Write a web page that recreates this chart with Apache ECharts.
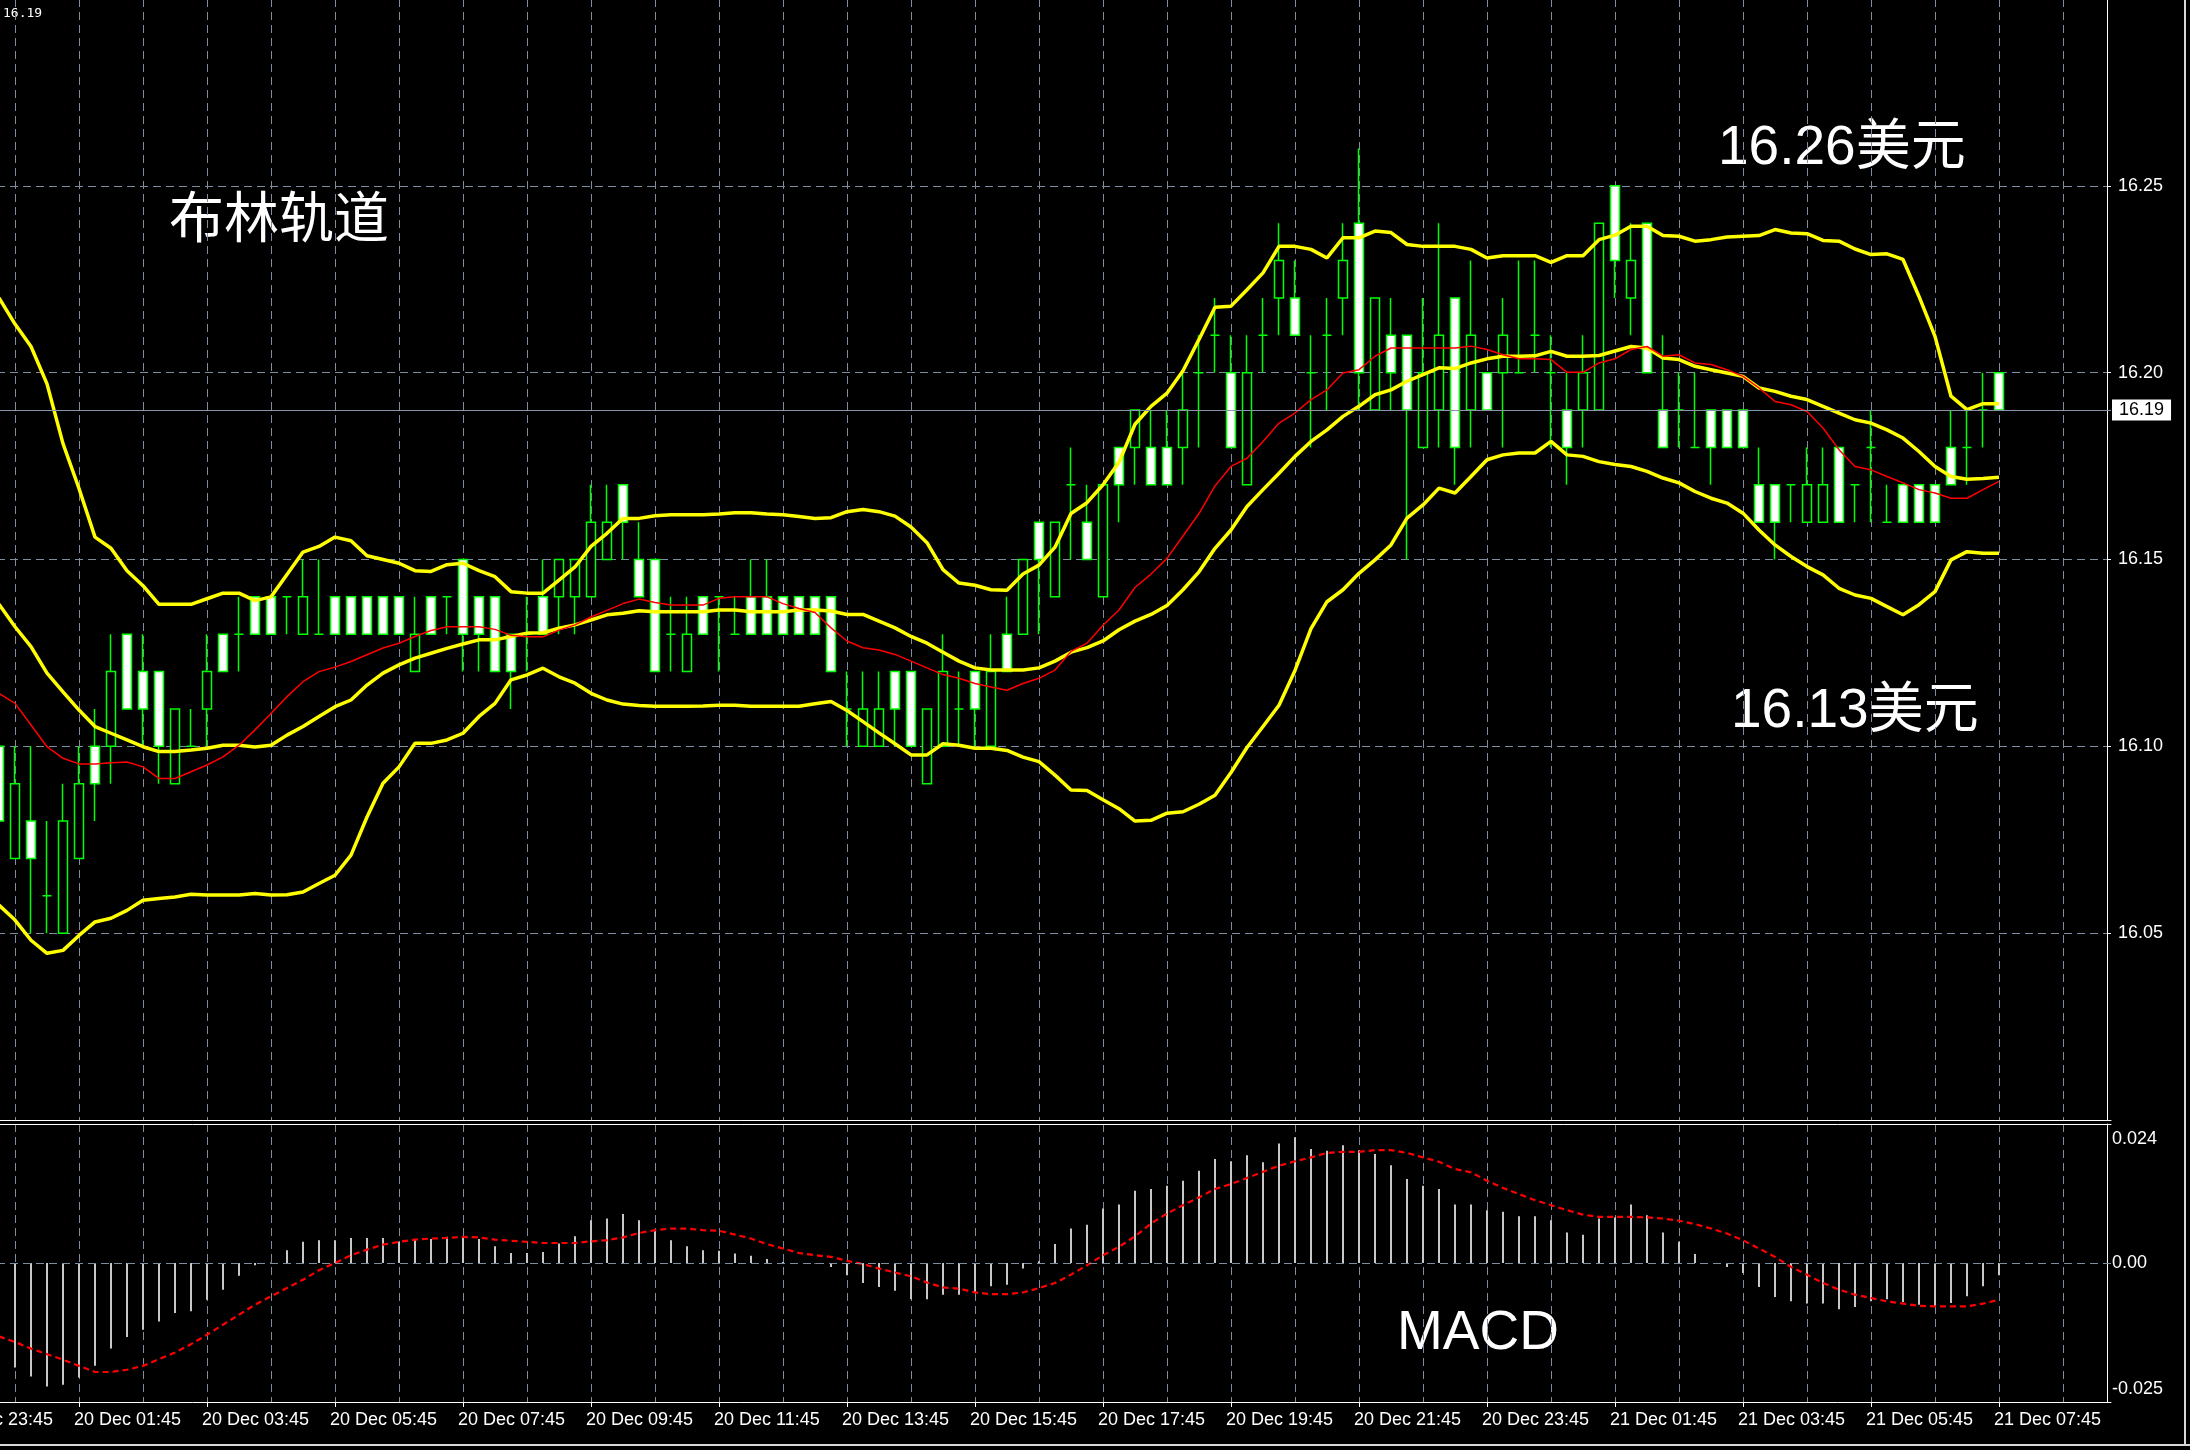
<!DOCTYPE html>
<html><head><meta charset="utf-8">
<script src="https://cdn.jsdelivr.net/npm/echarts@6/dist/echarts.min.js"></script>
<style>
html,body{margin:0;padding:0;background:#000;overflow:hidden;}
body{position:relative;width:2190px;height:1450px;}
#c{position:absolute;left:-81px;top:-2px;width:2271px;height:1452px;}
</style>
</head><body><div id="c"></div>
<script>
// ---- data: bars 20 Dec 00:30 (index 0) ... 21 Dec 07:45 (index 125), M15 ----
const open = [
16.10,16.07,16.08,16.06,16.05,16.07,16.10,16.10,16.13,16.12,
16.12,16.09,16.10,16.11,16.13,16.13,16.14,16.14,16.14,16.13,
16.13,16.14,16.14,16.14,16.14,16.14,16.12,16.14,16.14,16.15,
16.14,16.14,16.13,16.13,16.14,16.14,16.14,16.14,16.15,16.17,
16.15,16.15,16.13,16.12,16.14,16.14,16.13,16.14,16.14,16.14,
16.14,16.14,16.14,16.11,16.10,16.10,16.12,16.12,16.09,16.10,
16.11,16.12,16.10,16.13,16.13,16.16,16.14,16.17,16.16,16.14,
16.18,16.18,16.18,16.18,16.18,16.20,16.21,16.20,16.17,16.21,
16.22,16.22,16.20,16.21,16.22,16.24,16.19,16.21,16.21,16.18,
16.19,16.22,16.19,16.20,16.20,16.20,16.21,16.20,16.19,16.19,
16.19,16.25,16.22,16.24,16.19,16.19,16.18,16.19,16.19,16.19,
16.17,16.17,16.17,16.16,16.16,16.18,16.17,16.18,16.16,16.17,
16.17,16.17,16.18,16.18,16.19,16.20];
const high = [
16.11,16.10,16.10,16.08,16.09,16.10,16.11,16.13,16.13,16.13,
16.12,16.11,16.11,16.13,16.13,16.14,16.14,16.14,16.14,16.15,
16.15,16.14,16.14,16.14,16.14,16.14,16.14,16.14,16.14,16.15,
16.14,16.14,16.13,16.14,16.15,16.15,16.15,16.17,16.17,16.17,
16.16,16.15,16.14,16.14,16.14,16.14,16.14,16.15,16.15,16.14,
16.14,16.14,16.14,16.12,16.12,16.12,16.12,16.12,16.11,16.13,
16.12,16.12,16.13,16.14,16.15,16.16,16.16,16.18,16.17,16.17,
16.18,16.19,16.19,16.19,16.20,16.21,16.22,16.21,16.21,16.22,
16.24,16.23,16.21,16.22,16.24,16.26,16.22,16.22,16.21,16.22,
16.24,16.22,16.23,16.20,16.22,16.23,16.23,16.21,16.20,16.21,
16.24,16.25,16.24,16.24,16.21,16.20,16.20,16.19,16.19,16.19,
16.18,16.17,16.17,16.18,16.18,16.18,16.17,16.19,16.17,16.17,
16.17,16.17,16.19,16.19,16.20,16.20];
const low = [
16.07,16.07,16.05,16.05,16.05,16.07,16.08,16.09,16.11,16.10,
16.09,16.09,16.10,16.10,16.12,16.12,16.13,16.13,16.13,16.13,
16.13,16.13,16.13,16.13,16.13,16.13,16.12,16.13,16.13,16.12,
16.12,16.12,16.11,16.12,16.13,16.13,16.13,16.14,16.15,16.15,
16.14,16.12,16.12,16.12,16.13,16.12,16.13,16.13,16.13,16.13,
16.13,16.13,16.12,16.10,16.10,16.10,16.10,16.10,16.09,16.10,
16.10,16.10,16.10,16.12,16.13,16.13,16.14,16.15,16.15,16.14,
16.16,16.17,16.17,16.17,16.17,16.18,16.20,16.18,16.17,16.20,
16.21,16.21,16.18,16.19,16.21,16.19,16.19,16.19,16.15,16.18,
16.18,16.17,16.18,16.19,16.18,16.20,16.20,16.18,16.17,16.18,
16.19,16.22,16.21,16.20,16.18,16.18,16.18,16.17,16.18,16.18,
16.16,16.15,16.16,16.16,16.16,16.16,16.16,16.16,16.16,16.16,
16.16,16.16,16.17,16.17,16.18,16.19];
const close = [
16.08,16.09,16.07,16.06,16.08,16.09,16.09,16.12,16.11,16.11,
16.10,16.11,16.10,16.12,16.12,16.13,16.13,16.13,16.14,16.14,
16.13,16.13,16.13,16.13,16.13,16.13,16.13,16.13,16.14,16.13,
16.13,16.12,16.12,16.13,16.13,16.15,16.15,16.16,16.16,16.16,
16.14,16.12,16.13,16.13,16.13,16.14,16.13,16.13,16.13,16.13,
16.13,16.13,16.12,16.11,16.11,16.11,16.11,16.10,16.11,16.12,
16.11,16.11,16.12,16.12,16.15,16.15,16.16,16.17,16.15,16.17,
16.17,16.19,16.17,16.17,16.19,16.20,16.21,16.18,16.20,16.21,
16.23,16.21,16.20,16.21,16.23,16.20,16.22,16.20,16.19,16.20,
16.21,16.18,16.21,16.19,16.21,16.20,16.21,16.20,16.18,16.20,
16.24,16.23,16.23,16.20,16.18,16.19,16.18,16.18,16.18,16.18,
16.16,16.16,16.17,16.17,16.17,16.16,16.17,16.18,16.16,16.16,
16.16,16.16,16.17,16.18,16.19,16.19];
const bbUpper = [
16.220,16.213,16.207,16.197,16.181,16.169,16.156,16.153,16.147,16.143,
16.138,16.138,16.138,16.1395,16.141,16.141,16.139,16.140,16.146,16.152,
16.1535,16.156,16.155,16.151,16.150,16.149,16.147,16.1468,16.1486,16.149,
16.147,16.1454,16.1414,16.141,16.141,16.1445,16.148,16.1535,16.157,16.161,
16.161,16.1617,16.162,16.162,16.162,16.1622,16.1625,16.1625,16.1622,16.162,
16.1615,16.161,16.1612,16.1628,16.1634,16.1628,16.1616,16.1587,16.1545,16.1473,
16.1437,16.1431,16.1419,16.1418,16.1461,16.1485,16.1533,16.1623,16.1652,16.170,
16.176,16.1862,16.191,16.1945,16.2005,16.2089,16.2175,16.2178,16.2222,16.2267,
16.2338,16.2338,16.233,16.2307,16.2361,16.2361,16.2379,16.2375,16.2343,16.2338,
16.2338,16.2338,16.233,16.2307,16.2313,16.2313,16.2313,16.2295,16.2313,16.2313,
16.2356,16.2368,16.2392,16.2392,16.2367,16.2365,16.2352,16.2356,16.2363,16.2365,
16.2367,16.2383,16.2374,16.2372,16.2354,16.2352,16.2331,16.2316,16.2318,16.2303,
16.2204,16.2097,16.1937,16.1901,16.1917,16.1917];
const bbMiddle = [
16.138,16.132,16.1267,16.1196,16.1146,16.1097,16.1053,16.1035,16.1017,16.0999,
16.0986,16.0986,16.099,16.0995,16.1003,16.1003,16.0998,16.1003,16.103,16.1053,
16.108,16.1106,16.1124,16.1164,16.1196,16.1218,16.1236,16.1249,16.1262,16.1274,
16.1285,16.1285,16.1294,16.1303,16.1304,16.1316,16.1325,16.1338,16.1352,16.1356,
16.1363,16.136,16.136,16.136,16.136,16.1365,16.1365,16.136,16.136,16.136,
16.1365,16.1365,16.1362,16.1353,16.1353,16.1335,16.1317,16.1294,16.1276,16.1252,
16.1228,16.121,16.1204,16.1204,16.1204,16.121,16.1228,16.1252,16.1264,16.1282,
16.1312,16.1335,16.1353,16.1377,16.1419,16.1467,16.153,16.1579,16.1642,16.1687,
16.1731,16.1776,16.1816,16.1847,16.1883,16.191,16.1941,16.1954,16.1977,16.1995,
16.2013,16.2011,16.2026,16.2037,16.2044,16.2044,16.2045,16.2057,16.2044,16.2044,
16.2046,16.2058,16.207,16.2066,16.2039,16.2035,16.2017,16.2008,16.1999,16.199,
16.1959,16.195,16.1937,16.1928,16.191,16.1892,16.1874,16.1865,16.1847,16.1825,
16.1789,16.1749,16.1722,16.1715,16.1717,16.172];
const bbLower = [
16.0575,16.0535,16.0481,16.0446,16.0454,16.0494,16.053,16.054,16.0561,16.0588,
16.0593,16.0597,16.0604,16.0602,16.0602,16.0602,16.0606,16.0602,16.0603,16.061,
16.0633,16.0655,16.0709,16.0811,16.0901,16.0945,16.1008,16.1008,16.1017,16.1035,
16.108,16.1115,16.1178,16.1191,16.1209,16.1186,16.1169,16.1142,16.1124,16.1113,
16.1109,16.1107,16.1107,16.1107,16.1108,16.111,16.111,16.1107,16.1107,16.1107,
16.1107,16.1114,16.112,16.1096,16.1066,16.1036,16.1007,16.0977,16.0977,16.1007,
16.1003,16.0995,16.0995,16.0989,16.0971,16.0959,16.0923,16.0883,16.0882,16.0857,
16.0833,16.080,16.0802,16.0821,16.0825,16.0845,16.0869,16.093,16.0997,16.1053,
16.111,16.1203,16.1315,16.1387,16.1419,16.1463,16.1499,16.1539,16.1611,16.1646,
16.1691,16.1678,16.1722,16.1767,16.178,16.1785,16.1785,16.1816,16.178,16.1776,
16.1762,16.1754,16.1749,16.1736,16.1718,16.1705,16.1682,16.1664,16.1651,16.1624,
16.1579,16.1539,16.1508,16.1481,16.1459,16.1423,16.1405,16.1396,16.1374,16.1352,
16.1379,16.1414,16.1499,16.1521,16.1517,16.1517];
const maLine = [
16.1142,16.1115,16.1057,16.0999,16.0968,16.0953,16.0953,16.0956,16.0958,16.0945,
16.0914,16.0914,16.0932,16.095,16.0972,16.1003,16.1044,16.1088,16.1133,16.1173,
16.120,16.1212,16.1227,16.1245,16.1263,16.1276,16.1294,16.131,16.132,16.132,
16.132,16.1313,16.1297,16.1293,16.1293,16.1311,16.1325,16.1346,16.1364,16.1382,
16.1394,16.1385,16.1378,16.1378,16.1378,16.1396,16.140,16.140,16.140,16.1382,
16.1369,16.1358,16.1317,16.1282,16.1264,16.1258,16.1246,16.1228,16.121,16.1192,
16.1182,16.1168,16.1159,16.115,16.1168,16.1182,16.1204,16.1254,16.1276,16.1324,
16.1365,16.1425,16.1461,16.1503,16.1563,16.1623,16.1697,16.1749,16.1771,16.1816,
16.1865,16.1892,16.1928,16.1954,16.1999,16.2008,16.2044,16.2066,16.2066,16.2066,
16.2066,16.2066,16.2071,16.2062,16.2048,16.2037,16.2037,16.2035,16.2001,16.2001,
16.2026,16.2037,16.2062,16.207,16.2044,16.2048,16.2026,16.2022,16.2008,16.199,
16.1959,16.1923,16.1914,16.1896,16.1852,16.1794,16.1749,16.174,16.1722,16.1705,
16.1687,16.1678,16.1664,16.1664,16.1687,16.1709];
const macdHist = [
-0.0182,-0.0188,-0.0204,-0.0222,-0.0219,-0.0206,-0.0185,-0.0154,-0.0133,-0.012,
-0.0105,-0.009,-0.0087,-0.0066,-0.0048,-0.0023,-0.0004,0.0001,0.0023,0.0038,
0.0041,0.0041,0.0045,0.0045,0.0045,0.0038,0.0043,0.0043,0.0047,0.0047,
0.0043,0.003,0.0018,0.0018,0.002,0.0035,0.0048,0.0077,0.008,0.0088,
0.0077,0.0057,0.0041,0.003,0.0023,0.0022,0.0017,0.0013,0.0007,0.0002,
0.0,-0.0001,-0.0007,-0.0022,-0.0036,-0.0043,-0.005,-0.0065,-0.0065,-0.0057,
-0.0057,-0.0053,-0.0042,-0.0039,-0.001,0.0003,0.0034,0.0062,0.0069,0.0098,
0.0105,0.013,0.0133,0.0139,0.0148,0.0166,0.0187,0.0183,0.0194,0.0181,
0.0215,0.0226,0.0205,0.0202,0.0212,0.0203,0.0196,0.0176,0.0151,0.0139,
0.0133,0.0105,0.0105,0.0095,0.0092,0.0084,0.0084,0.0077,0.0055,0.0051,
0.008,0.0082,0.0105,0.0086,0.0055,0.0038,0.0016,0.0,-0.0007,-0.0018,
-0.0043,-0.0061,-0.0069,-0.0073,-0.0073,-0.0083,-0.0079,-0.0069,-0.0065,-0.007,
-0.0075,-0.0078,-0.0072,-0.006,-0.0042,-0.0022];
const macdSignal = [
-0.0132,-0.0142,-0.0154,-0.0164,-0.0174,-0.0185,-0.0196,-0.0196,-0.0192,-0.0185,
-0.0173,-0.0161,-0.0146,-0.0129,-0.0111,-0.0093,-0.0075,-0.006,-0.0045,-0.003,
-0.0013,0.0,0.0014,0.0024,0.0033,0.0038,0.0042,0.0044,0.0045,0.0047,
0.0046,0.0042,0.004,0.0038,0.0036,0.0036,0.0036,0.0039,0.0041,0.0046,
0.0054,0.0059,0.0062,0.0062,0.0059,0.0058,0.0051,0.0044,0.0034,0.0026,
0.0018,0.0014,0.0011,0.0004,-0.0002,-0.001,-0.0017,-0.0024,-0.0035,-0.0044,
-0.0046,-0.0053,-0.0056,-0.0056,-0.0053,-0.0045,-0.0036,-0.0021,-0.0004,0.0014,
0.0029,0.0048,0.0071,0.0089,0.0104,0.0118,0.0133,0.0142,0.0153,0.0164,
0.0175,0.0183,0.019,0.0198,0.02,0.02,0.0203,0.0203,0.0198,0.019,
0.0182,0.0169,0.0163,0.0148,0.0135,0.0124,0.0113,0.0104,0.0095,0.0087,
0.0083,0.0083,0.0083,0.0082,0.008,0.0076,0.007,0.0062,0.0053,0.0041,
0.0026,0.0011,-0.0007,-0.0021,-0.0036,-0.0048,-0.0057,-0.0063,-0.0069,-0.0073,
-0.0077,-0.0078,-0.0078,-0.0078,-0.0073,-0.0066];
const bidPrice = 16.19;
const priceTicks = {min: 16.00, max: 16.30, interval: 0.05};
const macdRange = {min: -0.025, max: 0.025};
const macdLabelValues = [-0.025, 0, 0.024];
const notes = {bands: '布林轨道', upper: '16.26美元', lower: '16.13美元', macd: 'MACD', corner: '16.19'};

// ---- time categories: 15-minute steps, starting 19 Dec 23:15 ----
const LEAD = 5, TRAIL = 7;
const categories = (function () {
  const out = []; let d = 19, h = 23, m = 15;
  for (let k = 0; k < LEAD + open.length + TRAIL; k++) {
    out.push(d + ' Dec ' + String(h).padStart(2, '0') + ':' + String(m).padStart(2, '0'));
    m += 15; if (m >= 60) { m -= 60; h += 1; if (h >= 24) { h -= 24; d += 1; } }
  }
  return out;
})();
function pad(a) { return Array(LEAD).fill('-').concat(a, Array(TRAIL).fill('-')); }
const candleData = pad(open.map((o, j) => [o, close[j], low[j], high[j]])).map(v => v === '-' ? ['-', '-', '-', '-'] : v);

// the canvas is shifted 81px left and 2px up (see CSS); page coords -> canvas coords
const OX = 81, OY = 2;
const GRID = '#7d8c9f';
const DASH = [8, 5];
const FONT = '"Liberation Sans", Arial, sans-serif';
const hourly = (i) => i % 4 === 2;
const twoHourly = (i) => i % 8 === 2;

const chart = echarts.init(document.getElementById('c'), null, {renderer: 'canvas', width: 2271, height: 1452});
chart.setOption({
  animation: false,
  backgroundColor: '#000000',
  textStyle: {fontFamily: FONT},
  grid: [
    {left: 0, top: 1, width: 2192, height: 1121},
    {left: 0, top: 1126, width: 2192, height: 278}
  ],
  xAxis: [
    {type: 'category', gridIndex: 0, data: categories, boundaryGap: false,
      axisLine: {show: true, onZero: false, lineStyle: {color: '#ffffff', width: 1}},
      axisTick: {show: false}, axisLabel: {show: false},
      splitLine: {show: true, interval: hourly, lineStyle: {color: GRID, type: DASH, width: 1}}},
    {type: 'category', gridIndex: 1, data: categories, boundaryGap: false,
      axisLine: {show: true, onZero: false, lineStyle: {color: '#ffffff', width: 1}},
      axisTick: {show: true, interval: twoHourly, length: 5, lineStyle: {color: '#ffffff'}},
      axisLabel: {interval: twoHourly, color: '#ffffff', fontFamily: FONT, fontSize: 18, align: 'left', margin: 9,
        padding: [0, 0, 0, -5]},
      splitLine: {show: true, interval: hourly, lineStyle: {color: GRID, type: DASH, width: 1}}},
    {type: 'category', gridIndex: 1, position: 'top', data: categories, boundaryGap: false,
      axisLine: {show: true, onZero: false, lineStyle: {color: '#ffffff', width: 1}},
      axisTick: {show: false}, axisLabel: {show: false}, splitLine: {show: false}}
  ],
  yAxis: [
    {type: 'value', gridIndex: 0, position: 'right', offset: -4,
      min: priceTicks.min, max: priceTicks.max, interval: priceTicks.interval,
      axisLine: {show: true, lineStyle: {color: '#ffffff', width: 1}},
      axisTick: {show: true, length: 4, lineStyle: {color: '#ffffff'}},
      axisLabel: {color: '#ffffff', fontFamily: FONT, fontSize: 18, margin: 11,
        showMinLabel: false, showMaxLabel: false, formatter: v => v.toFixed(2)},
      splitLine: {show: true, lineStyle: {color: GRID, type: DASH, width: 1}}},
    {type: 'value', gridIndex: 1, position: 'right', offset: -4,
      min: macdRange.min, max: macdRange.max,
      axisLine: {show: true, lineStyle: {color: '#ffffff', width: 1}},
      axisTick: {show: false},
      axisLabel: {customValues: macdLabelValues, color: '#ffffff', fontFamily: FONT, fontSize: 18, margin: 5,
        formatter: function (v) {
          if (Math.abs(v) < 1e-9) return '0.00';
          if (v > 0) return '{t|' + v.toFixed(3) + '}';
          return '{b|' + v.toFixed(3) + '}';
        },
        rich: {t: {padding: [18, 0, 0, 0], color: '#ffffff', fontSize: 18, fontFamily: FONT},
               b: {padding: [0, 0, 26, 0], color: '#ffffff', fontSize: 18, fontFamily: FONT}}},
      splitLine: {show: false}}
  ],
  series: [
    {type: 'candlestick', xAxisIndex: 0, yAxisIndex: 0, data: candleData, barWidth: 9,
      itemStyle: {color: '#000000', color0: '#ffffff', borderColor: '#00ff00', borderColor0: '#00ff00', borderColorDoji: '#00ff00', borderWidth: 1.5},
      markLine: {silent: true, symbol: ['none', 'none'], animation: false,
        data: [{yAxis: bidPrice}],
        lineStyle: {color: '#8896a8', type: 'solid', width: 1},
        label: {show: true, position: 'end', formatter: bidPrice.toFixed(2), color: '#000000', backgroundColor: '#ffffff',
          padding: [2, 7, 1, 7], fontSize: 18, fontFamily: FONT, distance: 1}}},
    {type: 'line', xAxisIndex: 0, yAxisIndex: 0, data: pad(bbUpper), symbol: 'none', lineStyle: {color: '#ffff00', width: 3.5}},
    {type: 'line', xAxisIndex: 0, yAxisIndex: 0, data: pad(bbMiddle), symbol: 'none', lineStyle: {color: '#ffff00', width: 3.5}},
    {type: 'line', xAxisIndex: 0, yAxisIndex: 0, data: pad(bbLower), symbol: 'none', lineStyle: {color: '#ffff00', width: 3.5}},
    {type: 'line', xAxisIndex: 0, yAxisIndex: 0, data: pad(maLine), symbol: 'none', lineStyle: {color: '#ff0000', width: 1.5}},
    {type: 'bar', xAxisIndex: 1, yAxisIndex: 1, data: pad(macdHist), barWidth: 2, itemStyle: {color: '#c8c8c8'},
      markLine: {silent: true, symbol: ['none', 'none'], animation: false, data: [{yAxis: 0}],
        lineStyle: {color: GRID, type: DASH, width: 1}, label: {show: false}}},
    {type: 'line', xAxisIndex: 1, yAxisIndex: 1, data: pad(macdSignal), symbol: 'none',
      lineStyle: {color: '#ff0000', width: 2.2, type: [6, 4]}}
  ],
  graphic: [
    {type: 'text', x: OX + 3, y: OY + 14, style: {text: notes.corner, fill: '#ffffff', font: '13px "DejaVu Sans Mono"', align: 'left', verticalAlign: 'middle'}},
    {type: 'text', x: OX + 169, y: OY + 216, style: {text: notes.bands, fill: '#ffffff', font: '55px "Noto Sans CJK SC"', align: 'left', verticalAlign: 'middle'}},
    {type: 'text', x: OX + 1718, y: OY + 149, style: {text: notes.upper, fill: '#ffffff', font: '55px "Liberation Sans", "Noto Sans CJK SC"', align: 'left', verticalAlign: 'middle'}},
    {type: 'text', x: OX + 1731, y: OY + 712, style: {text: notes.lower, fill: '#ffffff', font: '55px "Liberation Sans", "Noto Sans CJK SC"', align: 'left', verticalAlign: 'middle'}},
    {type: 'text', x: OX + 1397, y: OY + 1334, style: {text: notes.macd, fill: '#ffffff', font: '55px "Liberation Sans"', align: 'left', verticalAlign: 'middle'}},
    {type: 'rect', shape: {x: OX + 0, y: OY + 1444, width: 2190, height: 2}, style: {fill: '#d8d8d8'}},
    {type: 'rect', shape: {x: OX + 2184, y: OY + 0, width: 2, height: 1446}, style: {fill: '#d8d8d8'}}
  ]
});
</script></body></html>
